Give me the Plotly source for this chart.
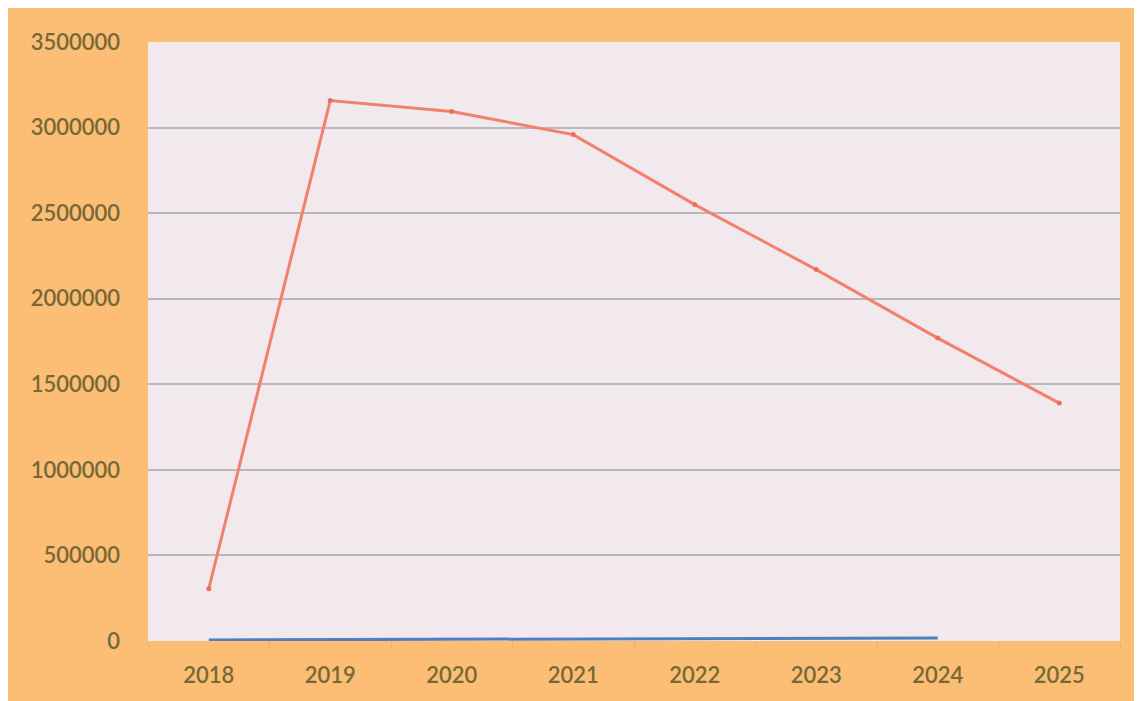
import plotly.graph_objects as go

years = ["2018", "2019", "2020", "2021", "2022", "2023", "2024", "2025"]
series_orange = [305000, 3158000, 3094000, 2959000, 2550000, 2170000, 1770000, 1390000]
years_blue = ["2018", "2019", "2020", "2021", "2022", "2023", "2024"]
series_blue = [6000, 8000, 10000, 12000, 14000, 16000, 18000]
y_ticks = [0, 500000, 1000000, 1500000, 2000000, 2500000, 3000000, 3500000]

text_color = "#776838"
font_family = "Lato, 'Open Sans', sans-serif"

fig = go.Figure()
fig.add_trace(go.Scatter(
    x=years_blue, y=series_blue, mode="lines",
    line=dict(color="#4F7FBF", width=3), showlegend=False, hoverinfo="skip"))
fig.add_trace(go.Scatter(
    x=years, y=series_orange, mode="lines+markers",
    line=dict(color="#F2806A", width=3),
    marker=dict(size=5, color="#E8705A"), showlegend=False))

W, H = 1142, 701
L, R, T, B = 140, 30, 34, 68

fig.update_layout(
    width=W, height=H,
    margin=dict(l=L, r=R, t=T, b=B),
    paper_bgcolor="#FBBE74",
    plot_bgcolor="#F2E9EE",
    font=dict(family=font_family, size=22, color=text_color, weight=600),
    xaxis=dict(
        type="category", categoryorder="array", categoryarray=years,
        range=[-0.5, 7.5], showgrid=False, showline=False, zeroline=False,
        ticks="outside", ticklen=6, tickcolor="#E8AE66",
        tickson="boundaries", ticklabelstandoff=19,
        tickfont=dict(size=22, color=text_color, weight=600)),
    yaxis=dict(
        range=[0, 3500000], tickvals=y_ticks,
        ticktext=[str(v) for v in y_ticks],
        showgrid=True, gridcolor="#BCB6BF", gridwidth=1.5,
        zeroline=False, showline=False, ticks="",
        ticklabelstandoff=27,
        tickfont=dict(size=22, color=text_color, weight=600)),
)

fig.write_html("out.html", config={"displayModeBar": False})
